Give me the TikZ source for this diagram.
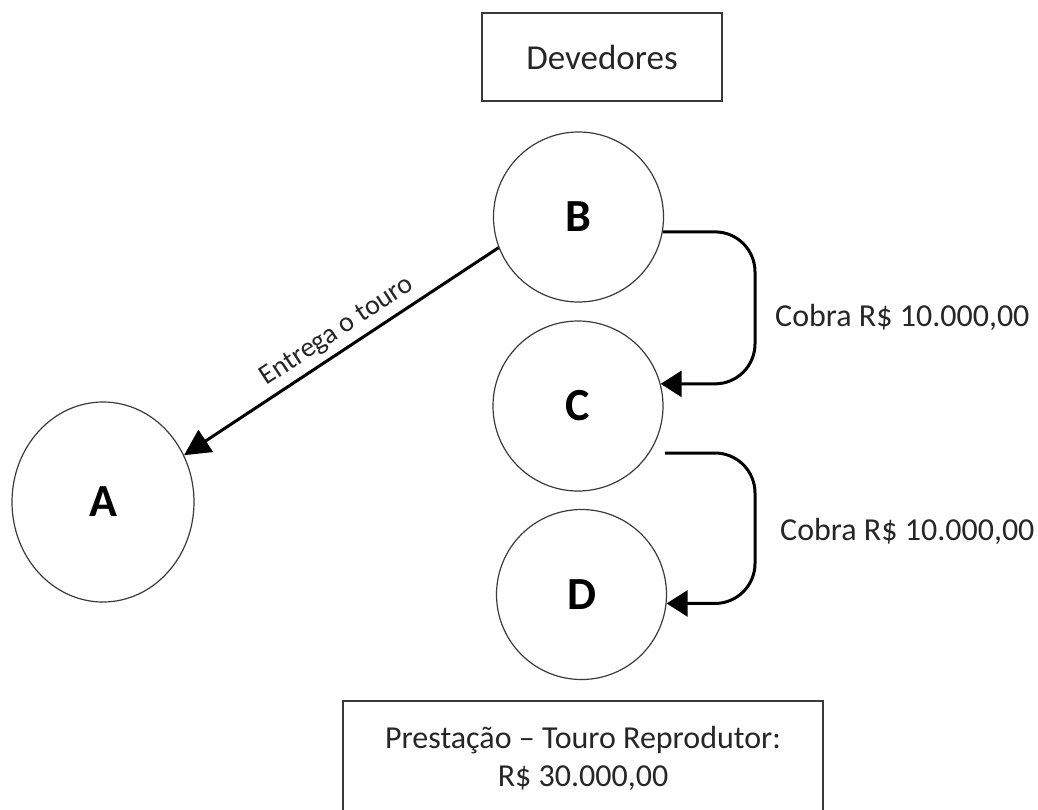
\documentclass[tikz,border=0pt]{standalone}
\usepackage{fontspec}
\setmainfont{Carlito}
\usetikzlibrary{arrows.meta,shapes.geometric}

\definecolor{ink}{HTML}{262626}
\definecolor{rim}{HTML}{3A3A3A}

\tikzset{
  party/.style={circle, draw=rim, line width=1.2pt, minimum size=170pt, inner sep=0pt,
                font=\fontsize{46}{50}\selectfont\bfseries, text=black},
  framebox/.style={draw=rim, line width=1.8pt, text=ink, inner sep=0pt},
  arr/.style={line width=3pt, black, -{Triangle[length=21pt,width=26pt]}},
  arrlong/.style={line width=3pt, black, -{Triangle[length=26pt,width=26pt]}},
  lbl/.style={text=ink, font=\fontsize{32}{38}\selectfont, inner sep=0pt},
}

\begin{document}
\begin{tikzpicture}[x=1pt,y=-1pt]
  \useasboundingbox (0,0) rectangle (1038,809);

  % header box
  \node[framebox, minimum width=240pt, minimum height=88pt,
        font=\fontsize{35}{40}\selectfont] (dev) at (602,57) {Devedores};

  % the four parties
  \node[party] (B) at (578.5,217) {B};
  \node[party] (C) at (578,406) {C};
  \node[party] (D) at (581.5,594.5) {D};
  \node[party, ellipse, minimum width=182pt, minimum height=200pt] (A) at (103,502) {A};

  % B hands the bull over to A
  \draw[arrlong] (B.201) -- (A.30)
    node[pos=0.48, rotate=33.4, anchor=south, inner sep=6pt, text=ink,
         font=\fontsize{28}{32}\selectfont] {Entrega o touro};

  % collection chain B -> C -> D
  \coordinate (bend) at (755,0);
  \coordinate (cdstart) at (665,453);
  \draw[arr, rounded corners=40pt] (B.-10) -- (B.-10 -| bend) |- (C.15);
  \draw[arr, rounded corners=40pt] (cdstart) -- (cdstart -| bend) |- (D.-6);

  \node[lbl, anchor=base west] (cobra1) at (775,326) {Cobra R\$ 10.000,00};
  \node[lbl, anchor=base west] (cobra2) at (780,540) {Cobra R\$ 10.000,00};

  % instalment box, running off the lower edge
  \begin{scope}
    \clip (0,0) rectangle (1038,809);
    \node[framebox, anchor=north, minimum width=480pt, inner ysep=25pt,
          align=center, font=\fontsize{32}{38.5}\selectfont] (prest) at (583,700)
      {Prestação – Touro Reprodutor:\\R\$ 30.000,00};
  \end{scope}
\end{tikzpicture}
\end{document}
